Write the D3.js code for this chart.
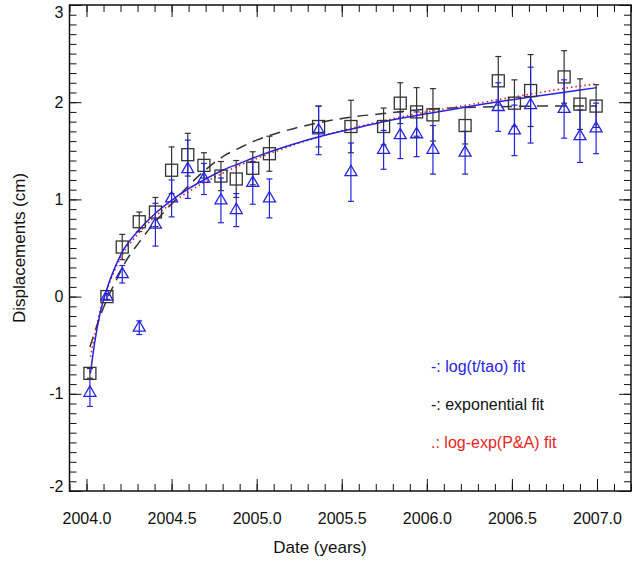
<!DOCTYPE html>
<html>
<head>
<meta charset="utf-8">
<script src="https://cdn.jsdelivr.net/npm/d3@7"></script>
<style>
  body { margin: 0; background: #fff; }
  text { font-family: "Liberation Sans", Arial, Helvetica, sans-serif; }
</style>
</head>
<body>
<svg id="chart"></svg>
<script>
// observation dates (decimal years)
const dates = [2004.02, 2004.12, 2004.21, 2004.31, 2004.405, 2004.50, 2004.595, 2004.69, 2004.79, 2004.88, 2004.977, 2005.075,
  2005.364, 2005.554, 2005.746, 2005.844, 2005.94, 2006.036, 2006.225, 2006.42, 2006.515, 2006.61, 2006.807, 2006.90, 2006.995]

// squares (black)
const square_values = [-0.79, 0.0, 0.51, 0.77, 0.87, 1.30, 1.46, 1.35, 1.24, 1.21, 1.32, 1.47,
  1.75, 1.75, 1.75, 1.99, 1.90, 1.87, 1.76, 2.22, 1.99, 2.12, 2.26, 1.98, 1.96]
const square_errors = [0.05, 0.03, 0.13, 0.10, 0.15, 0.24, 0.22, 0.13, 0.15, 0.19, 0.17, 0.18,
  0.21, 0.27, 0.19, 0.21, 0.25, 0.27, 0.19, 0.25, 0.24, 0.37, 0.27, 0.26, 0.22]

// triangles (blue)
const triangle_values = [-0.99, 0.0, 0.23, -0.32, 0.74, 1.01, 1.31, 1.21, 0.99, 0.89, 1.17, 1.01,
  1.71, 1.28, 1.51, 1.66, 1.67, 1.51, 1.48, 1.95, 1.71, 1.97, 1.93, 1.65, 1.73]
const triangle_errors = [0.14, 0.03, 0.09, 0.07, 0.22, 0.19, 0.30, 0.16, 0.23, 0.17, 0.22, 0.20,
  0.25, 0.30, 0.20, 0.24, 0.23, 0.25, 0.22, 0.25, 0.26, 0.39, 0.30, 0.27, 0.26]

// fit curves
const fit_dates = [2004.023, 2004.05, 2004.08, 2004.12, 2004.16, 2004.21, 2004.3, 2004.4, 2004.5, 2004.6, 2004.7, 2004.8,
  2004.9, 2005.0, 2005.2, 2005.4, 2005.6, 2005.8, 2006.0, 2006.2, 2006.4, 2006.6, 2006.8, 2007.0]
const log_fit_values = [-0.79, -0.45, -0.17, 0.08, 0.27, 0.46, 0.67, 0.85, 0.99, 1.11, 1.21, 1.30,
  1.37, 1.44, 1.56, 1.66, 1.74, 1.82, 1.88, 1.94, 2.00, 2.05, 2.10, 2.15]
const logexp_fit_values = [-0.62, -0.38, -0.14, 0.07, 0.25, 0.43, 0.64, 0.82, 0.96, 1.08, 1.18, 1.27,
  1.35, 1.42, 1.55, 1.66, 1.75, 1.83, 1.90, 1.96, 2.02, 2.08, 2.14, 2.19]
const exp_fit_dates = [2004.02, 2004.07, 2004.12, 2004.17, 2004.23, 2004.31, 2004.38, 2004.45, 2004.52, 2004.61, 2004.69, 2004.81,
  2004.9, 2005.0, 2005.1, 2005.22, 2005.37, 2005.57, 2005.73, 2005.94, 2006.14, 2006.33, 2006.71, 2007.0]
const exp_fit_values = [-0.52, -0.25, -0.03, 0.15, 0.36, 0.56, 0.72, 0.86, 0.99, 1.16, 1.29, 1.45,
  1.53, 1.61, 1.67, 1.73, 1.79, 1.85, 1.88, 1.92, 1.94, 1.95, 1.96, 1.96]

const x_ticks = [2004.0, 2004.5, 2005.0, 2005.5, 2006.0, 2006.5, 2007.0]
const y_ticks = [-2, -1, 0, 1, 2, 3]

const legend_labels = ["-: log(t/tao) fit", "-: exponential fit", ".: log-exp(P&A) fit"]

const BLUE = "rgb(35,35,225)", RED = "rgb(232,30,30)", BLACK = "#222"

const svg = d3.select("#chart").attr("width", 641).attr("height", 561)
const plot_left = 69.5, plot_right = 631, plot_top = 5, plot_bottom = 491
const x = d3.scaleLinear().domain([2003.9, 2007.2]).range([plot_left, plot_right])
const y = d3.scaleLinear().domain([-2, 3]).range([plot_bottom, plot_top])

const x_minor = d3.range(2003.9, 2007.21, 0.1).map(d => Math.round(d * 10) / 10)
const y_minor = d3.range(-2, 3.01, 0.1).map(d => Math.round(d * 10) / 10)

function add_axis(axis, tx, ty){
  const g = svg.append("g").attr("transform", `translate(${tx},${ty})`).call(axis)
  g.select(".domain").remove()
  g.selectAll("line").attr("stroke", "#111")
  g.selectAll("text").attr("fill", "#111").style("font-size", "16px").style("font-family", '"Liberation Sans", Arial, sans-serif')
  return g
}

// minor ticks
add_axis(d3.axisBottom(x).tickValues(x_minor).tickSize(-7).tickFormat(""), 0, plot_bottom)
add_axis(d3.axisTop(x).tickValues(x_minor).tickSize(-7).tickFormat(""), 0, plot_top)
add_axis(d3.axisLeft(y).tickValues(y_minor).tickSize(-7).tickFormat(""), plot_left, 0)
add_axis(d3.axisRight(y).tickValues(y_minor).tickSize(-7).tickFormat(""), plot_right, 0)

// major ticks
add_axis(d3.axisBottom(x).tickValues(x_ticks).tickSize(-12).tickPadding(22).tickFormat(d => d.toFixed(1)), 0, plot_bottom)
add_axis(d3.axisTop(x).tickValues(x_ticks).tickSize(-12).tickFormat(""), 0, plot_top)
const y_axis = add_axis(d3.axisLeft(y).tickValues(y_ticks).tickSize(-12).tickPadding(6).tickFormat(d => String(d)), plot_left, 0)
add_axis(d3.axisRight(y).tickValues(y_ticks).tickSize(-12).tickFormat(""), plot_right, 0)

// end labels are nudged inside the frame
y_axis.selectAll(".tick").filter(d => d === 3).select("text").attr("dy", "0.8em")
y_axis.selectAll(".tick").filter(d => d === -2).select("text").attr("dy", "0.0em")

svg.append("rect")
  .attr("x", plot_left).attr("y", plot_top)
  .attr("width", plot_right - plot_left).attr("height", plot_bottom - plot_top)
  .attr("fill", "none").attr("stroke", "#111").attr("stroke-width", 1.5)

// axis titles
svg.append("text")
  .attr("x", 320).attr("y", 553)
  .attr("text-anchor", "middle")
  .style("font-size", "17px").attr("fill", "#111")
  .text("Date (years)")

svg.append("text")
  .attr("transform", `translate(25,${(plot_top + plot_bottom) / 2}) rotate(-90)`)
  .attr("text-anchor", "middle")
  .style("font-size", "17px").attr("fill", "#111")
  .text("Displacements (cm)")

// error bars
function render_errors(values, errors, color){
  const g = svg.append("g").attr("stroke", color).attr("stroke-width", 1.2)
  dates.forEach((d, i) => {
    const cx = x(d), y0 = y(values[i] - errors[i]), y1 = y(values[i] + errors[i])
    g.append("line").attr("x1", cx).attr("x2", cx).attr("y1", y0).attr("y2", y1)
    g.append("line").attr("x1", cx - 3).attr("x2", cx + 3).attr("y1", y0).attr("y2", y0)
    g.append("line").attr("x1", cx - 3).attr("x2", cx + 3).attr("y1", y1).attr("y2", y1)
  })
}

render_errors(square_values, square_errors, "#333")
render_errors(triangle_values, triangle_errors, BLUE)

// fit curves
function render_fit(xs, ys, color, dash, width){
  const line = d3.line().x(d => x(d[0])).y(d => y(d[1])).curve(d3.curveMonotoneX)
  svg.append("path")
    .attr("d", line(xs.map((d, i) => [d, ys[i]])))
    .attr("fill", "none")
    .attr("stroke", color)
    .attr("stroke-width", width)
    .attr("stroke-dasharray", dash)
}

render_fit(exp_fit_dates, exp_fit_values, "#333", "11,7", 1.5)
render_fit(fit_dates, logexp_fit_values, RED, "1.5,3", 1.6)
render_fit(fit_dates, log_fit_values, BLUE, null, 1.5)

// markers
svg.append("g").selectAll("rect").data(dates).join("rect")
  .attr("x", d => x(d) - 6).attr("y", (d, i) => y(square_values[i]) - 6)
  .attr("width", 12).attr("height", 12)
  .attr("fill", "none").attr("stroke", "#333").attr("stroke-width", 1.3)

const tri = d3.symbol().type(d3.symbolTriangle).size(62)
svg.append("g").selectAll("path").data(dates).join("path")
  .attr("transform", (d, i) => `translate(${x(d)},${y(triangle_values[i])})`)
  .attr("d", tri)
  .attr("fill", "none").attr("stroke", BLUE).attr("stroke-width", 1.3)

// legend
const legend_colors = [BLUE, "#111", RED]
svg.append("g").selectAll("text").data(legend_labels).join("text")
  .attr("x", 431).attr("y", (d, i) => 366 + i * 38)
  .attr("dominant-baseline", "central")
  .style("font-size", "16px")
  .attr("fill", (d, i) => legend_colors[i])
  .text(d => d)
</script>
</body>
</html>
